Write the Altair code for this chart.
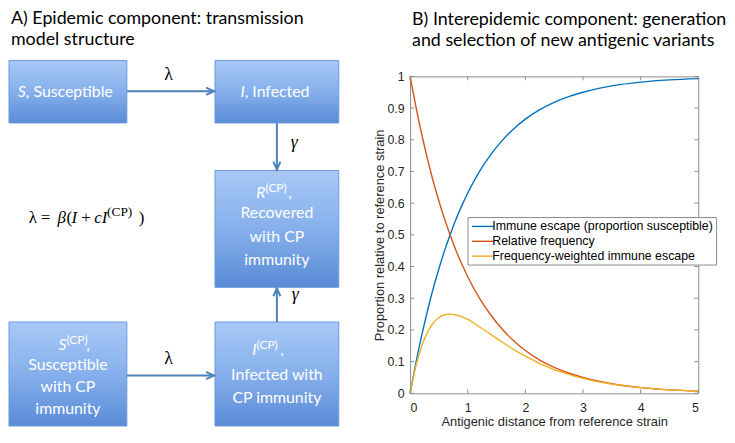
import altair as alt
import pandas as pd

# ---------------- Panel B: curve values ----------------
distance = [0.0, 0.1, 0.2, 0.3, 0.4, 0.5, 0.6, 0.7, 0.8, 0.9, 1.0, 1.2, 1.4, 1.6,
            1.8, 2.0, 2.25, 2.5, 2.75, 3.0, 3.5, 4.0, 4.5, 5.0]
immune_escape = [0.000, 0.095, 0.181, 0.259, 0.330, 0.393, 0.451, 0.503, 0.551, 0.593,
                 0.632, 0.699, 0.753, 0.798, 0.835, 0.865, 0.895, 0.918, 0.936, 0.950,
                 0.970, 0.982, 0.989, 0.993]
relative_frequency = [1.000, 0.905, 0.819, 0.741, 0.670, 0.607, 0.549, 0.497, 0.449, 0.407,
                      0.368, 0.301, 0.247, 0.202, 0.165, 0.135, 0.105, 0.082, 0.064, 0.050,
                      0.030, 0.018, 0.011, 0.007]
weighted_escape = [0.000, 0.086, 0.148, 0.192, 0.221, 0.239, 0.248, 0.250, 0.247, 0.241,
                   0.233, 0.210, 0.186, 0.161, 0.138, 0.117, 0.094, 0.075, 0.060, 0.047,
                   0.029, 0.018, 0.011, 0.007]
series_names = ["Immune escape (proportion susceptible)", "Relative frequency",
                "Frequency-weighted immune escape"]
series_colors = ["#0072BD", "#D95319", "#EDB120"]
x_ticks = [0, 1, 2, 3, 4, 5]
y_ticks = [0, 0.1, 0.2, 0.3, 0.4, 0.5, 0.6, 0.7, 0.8, 0.9, 1.0]

# ---------------- Panel A: diagram content ----------------
box_x1 = [8, 216, 216, 8, 216]
box_x2 = [127, 341, 341, 127, 341]
box_y1 = [59, 59, 170, 323, 323]
box_y2 = [122, 122, 288, 428, 428]

arrow_x1 = [127, 278.5, 278.5, 127]
arrow_y1 = [90, 122, 323, 377]
arrow_x2 = [215, 278.5, 278.5, 215]
arrow_y2 = [90, 169, 289, 377]
arrow_angle = [0, 90, 270, 0]

box_lines = ["Recovered", "with CP", "immunity", "Infected with", "CP immunity",
             "Susceptible", "with CP", "immunity"]
box_lines_x = [278.5, 278.5, 278.5, 278.5, 278.5, 67.5, 67.5, 67.5]
box_lines_y = [213, 237, 260, 377, 400, 366, 389, 411]

italic_letters = ["S", "I", "R", "I", "S"]
italic_x = [25, 246, 267, 258, 66]
italic_y = [91, 91, 193, 351, 346]

tail_text = [", Susceptible", ", Infected", ",", ",", ","]
tail_x = [25, 246, 290, 282, 86]
tail_y = [91, 91, 193, 351, 346]

sup_text = ["(CP)", "(CP)", "(CP)"]
sup_x = [267, 258, 66]
sup_y = [188, 346, 341]

lambda_text = ["λ", "λ"]
lambda_x = [169, 169]
lambda_y = [74, 360]

gamma_text = ["γ", "γ"]
gamma_x = [296, 297]
gamma_y = [142, 296]

formula_upright = ["λ", "=", "(", "+", ")"]
formula_upright_x = [28, 40, 66, 81, 139]
formula_italic = ["β", "I", "cI"]
formula_italic_x = [57, 71, 94]
formula_sup = ["(CP)"]
formula_sup_x = [107]
formula_y = 223
formula_sup_y = 216

title_a = ["A) Epidemic component: transmission", "model structure"]
title_b = ["B) Interepidemic component: generation", "and selection of new antigenic variants"]

# ---------------- build Panel A ----------------
BLUE = "#4f81bd"
lx = alt.Scale(domain=[8, 343], nice=False, zero=False)
ly = alt.Scale(domain=[75, 428], nice=False, zero=False, reverse=True)


def X(f):
    return alt.X(f, type="quantitative", scale=lx, axis=None)


def Y(f):
    return alt.Y(f, type="quantitative", scale=ly, axis=None)


boxes = pd.DataFrame({"x": box_x1, "x2": box_x2, "y": box_y1, "y2": box_y2})
grad = alt.LinearGradient(gradient="linear", x1=0, x2=0, y1=0, y2=1,
                          stops=[alt.GradientStop(color="#a8c8f6", offset=0),
                                 alt.GradientStop(color="#86b0ec", offset=0.5),
                                 alt.GradientStop(color="#5a8bd6", offset=1)])
box_layer = alt.Chart(boxes).mark_rect(fill=grad, stroke="#6a98dc", strokeWidth=1).encode(
    x=X("x"), x2="x2", y=Y("y"), y2="y2")

arrows = pd.DataFrame({"x": arrow_x1, "y": arrow_y1, "x2": arrow_x2, "y2": arrow_y2, "a": arrow_angle})
arrow_layer = alt.Chart(arrows).mark_rule(color=BLUE, strokeWidth=2).encode(
    x=X("x"), y=Y("y"), x2="x2", y2="y2")
head_layer = alt.Chart(arrows).mark_point(
    shape="M-1,-0.45L0,0L-1,0.45", filled=False, size=256, strokeWidth=2, color=BLUE, opacity=1
).encode(x=X("x2"), y=Y("y2"), angle=alt.Angle("a:Q", scale=None))


def text_layer(texts, xs, ys, **mark):
    df = pd.DataFrame({"t": texts, "x": xs, "y": ys})
    return alt.Chart(df).mark_text(**mark).encode(x=X("x"), y=Y("y"), text="t:N")


BOXFONT = dict(font="Lato", fontSize=16, color="white", baseline="middle")
t1 = text_layer(box_lines, box_lines_x, box_lines_y, align="center", **BOXFONT)
t2 = text_layer(italic_letters, italic_x, italic_y, align="right", fontStyle="italic", **BOXFONT)
t3 = text_layer(tail_text, tail_x, tail_y, align="left", **BOXFONT)
t4 = text_layer(sup_text, sup_x, sup_y, align="left", font="Lato", fontSize=12,
                color="white", baseline="middle")
SERIF = dict(font="Liberation Serif", color="black")
t5 = text_layer(lambda_text, lambda_x, lambda_y, align="center", baseline="middle", fontSize=18, **SERIF)
t6 = text_layer(gamma_text, gamma_x, gamma_y, align="center", baseline="middle", fontSize=18,
                fontStyle="italic", **SERIF)
t7 = text_layer(formula_upright, formula_upright_x, [formula_y] * len(formula_upright),
                align="left", baseline="alphabetic", fontSize=17, **SERIF)
t8 = text_layer(formula_italic, formula_italic_x, [formula_y] * len(formula_italic),
                align="left", baseline="alphabetic", fontSize=17, fontStyle="italic", **SERIF)
t9 = text_layer(formula_sup, formula_sup_x, [formula_sup_y], align="left",
                baseline="alphabetic", fontSize=13.5, **SERIF)

left = alt.layer(box_layer, arrow_layer, head_layer, t1, t2, t3, t4, t5, t6, t7, t8, t9).properties(
    width=335, height=353,
    title=alt.TitleParams(text=title_a, anchor="start", frame="group", font="Lato", fontSize=18,
                          fontWeight="normal", lineHeight=21, color="black", offset=11, dx=2),
)

# ---------------- build Panel B ----------------
rows = []
for name, vals in zip(series_names, [immune_escape, relative_frequency, weighted_escape]):
    for d, v in zip(distance, vals):
        rows.append({"d": d, "v": v, "s": name})
curves = pd.DataFrame(rows)

AX = dict(labelFont="Liberation Sans", labelFontSize=12.5, labelColor="#262626",
          titleFont="Liberation Sans", titleFontSize=13, titleFontWeight="normal",
          titleColor="#262626", ticks=False, domain=False, grid=False, labelOverlap=False)
xs = alt.Scale(domain=[0, 5], nice=False, zero=False)
ys = alt.Scale(domain=[0, 1], nice=False, zero=False)
x_axis = alt.Axis(values=x_ticks, format="~g", labelPadding=8, titlePadding=2,
                  title="Antigenic distance from reference strain", **AX)
y_axis = alt.Axis(values=y_ticks, format="~g", labelPadding=6, titlePadding=0,
                  title="Proportion relative to reference strain", **AX)

lines = alt.Chart(curves).mark_line(strokeWidth=1.4, interpolate="monotone").encode(
    x=alt.X("d:Q", scale=xs, axis=x_axis),
    y=alt.Y("v:Q", scale=ys, axis=y_axis),
    color=alt.Color("s:N", scale=alt.Scale(domain=series_names, range=series_colors),
                    legend=alt.Legend(orient="none", legendX=58, legendY=142, title=None,
                                      symbolType="M-1.7,0L1.7,0", symbolSize=169, symbolStrokeWidth=1.4,
                                      symbolOffset=6, symbolFillColor="transparent",
                                      labelFont="Liberation Sans", labelFontSize=12.5, labelColor="black",
                                      labelOffset=2, labelLimit=400, rowPadding=1, padding=2,
                                      strokeColor="#8c8c8c", fillColor="white")),
)

tick_len_y = 0.0125
tick_len_x = 0.0687
trows = []
for v in x_ticks:
    trows.append({"x": v, "x2": v, "y": 0, "y2": tick_len_y})
    trows.append({"x": v, "x2": v, "y": 1, "y2": 1 - tick_len_y})
for v in y_ticks:
    trows.append({"x": 0, "x2": tick_len_x, "y": v, "y2": v})
    trows.append({"x": 5, "x2": 5 - tick_len_x, "y": v, "y2": v})
ticks = alt.Chart(pd.DataFrame(trows)).mark_rule(color="#8c8c8c", strokeWidth=1).encode(
    x=alt.X("x:Q", scale=xs, axis=x_axis), x2="x2", y=alt.Y("y:Q", scale=ys, axis=y_axis), y2="y2")

right = alt.layer(lines, ticks).properties(
    width=291, height=320,
    view=alt.ViewBackground(stroke="#8c8c8c", strokeWidth=1),
    title=alt.TitleParams(text=title_b, anchor="start", frame="group", font="Lato", fontSize=18,
                          fontWeight="normal", lineHeight=21, color="black", offset=21, dx=2),
)

chart = alt.hconcat(left, right, spacing=33).resolve_legend(color="independent").properties(
    padding={"left": 0, "top": 0, "right": 0, "bottom": 0}
).configure_view(stroke=None)

chart.save("out.html", embed_options={"renderer": "svg", "actions": False})
